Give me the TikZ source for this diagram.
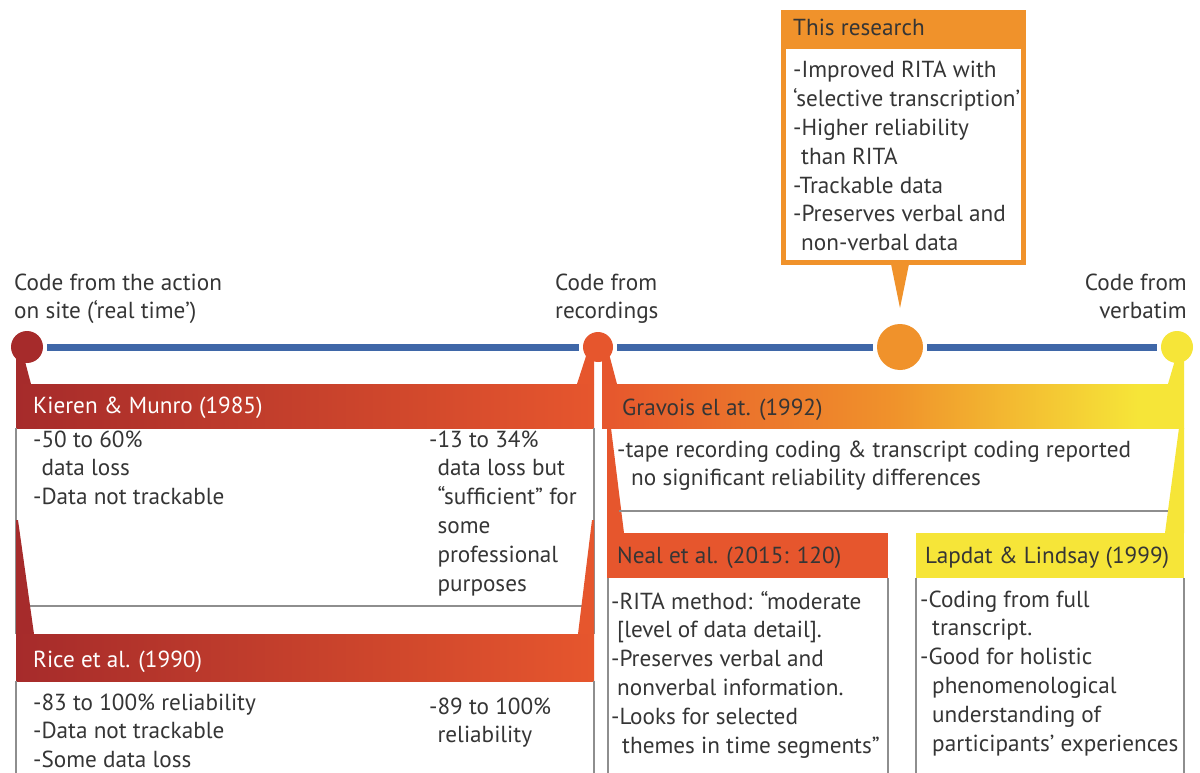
\documentclass[tikz,border=0pt]{standalone}
\usepackage{fontspec}
\setmainfont{PT Sans}

\definecolor{tlred}{HTML}{A62B2B}
\definecolor{tlorangered}{HTML}{E6562D}
\definecolor{tlorange}{HTML}{F0922B}
\definecolor{tlyellow}{HTML}{F6E538}
\definecolor{tlblue}{HTML}{3F67A8}
\definecolor{rulegrey}{HTML}{8E8E8E}
\definecolor{ink}{HTML}{353535}

% header fade: red-orange -> orange -> yellow
\pgfdeclarehorizontalshading{gravoisfade}{100bp}{color(0bp)=(tlorangered); color(25bp)=(tlorangered); color(50bp)=(tlorange); color(71bp)=(tlyellow); color(100bp)=(tlyellow)}

\newcommand{\bodyfont}{\fontsize{23.2}{28.8}\selectfont}
\newcommand{\txtblock}[1]{\begin{tabular}[t]{@{}l@{}}#1\end{tabular}}
\newcommand{\txtblockr}[1]{\begin{tabular}[t]{@{}r@{}}#1\end{tabular}}
\newcommand{\ind}{\hphantom{-}}

\tikzset{
  dot/.style={circle, inner sep=0pt, outer sep=4pt, draw=none},
  timeline/.style={draw=tlblue, line width=7pt},
  rule/.style={draw=rulegrey, line width=1.3pt},
  txt/.style={anchor=base west, inner sep=0pt, text=ink, font=\bodyfont},
  hdrwhite/.style={txt, text=white},
}

\begin{document}
\begin{tikzpicture}[x=1pt, y=-1pt]
\useasboundingbox (0,0) rectangle (1200,773);
\fill[white] (0,0) rectangle (1200,773);

% ---- timeline points ----
\node[dot, fill=tlred, minimum size=32pt] (c1) at (27,347) {};
\node[dot, fill=tlorangered, minimum size=30pt] (c2) at (598,347) {};
\node[dot, fill=tlorange, minimum size=46pt] (c3) at (900,347) {};
\node[dot, fill=tlyellow, minimum size=32pt] (c4) at (1177,347) {};
\draw[timeline] (c1) -- (c2);
\draw[timeline] (c2) -- (c3);
\draw[timeline] (c3) -- (c4);

% ---- point labels ----
\node[txt] (lab1) at (14,290) {\txtblock{Code from the action\\on site (‘real time’)}};
\node[txt] (lab2) at (555,290) {\txtblock{Code from\\recordings}};
\node[txt, anchor=base east] (lab3) at (1187,290) {\txtblockr{Code from\\verbatim}};

% ---- legs from the points down to the headers ----
\fill[tlred] (16,350) -- (22,350) -- (31,384) -- (16,384) -- cycle;
\fill[tlorangered] (588,350) -- (594,350) -- (594,384) -- (577,384) -- cycle;
\fill[tlorangered] (602,350) -- (608,350) -- (617,384) -- (602,384) -- cycle;
\fill[tlyellow] (1178,350) -- (1184,350) -- (1184,384) -- (1168,384) -- cycle;

% ---- Kieren & Munro ----
\shade[left color=tlred, right color=tlorangered] (16,384) rectangle (594,428);
\draw[rule] (16,428) -- (16,634);
\draw[rule] (594,428) -- (594,634);
\draw[rule] (16,606) -- (594,606);
\node[hdrwhite] (km) at (33,413) {Kieren \& Munro (1985)};
\node[txt] (kmA) at (33,447) {\txtblock{-50 to 60\%\\ \ind data loss\\-Data not trackable}};
\node[txt] (kmB) at (429,447) {\txtblock{-13 to 34\%\\ \ind data loss but\\ \ind “sufficient” for\\ \ind some\\ \ind professional\\ \ind purposes}};

% ---- Rice et al. ----
\fill[tlred] (16,520) -- (18,520) -- (34,634) -- (16,634) -- cycle;
\fill[tlorangered] (594,520) -- (592,520) -- (578,634) -- (594,634) -- cycle;
\shade[left color=tlred, right color=tlorangered] (16,634) rectangle (594,681);
\draw[rule] (16,681) -- (16,773);
\draw[rule] (594,681) -- (594,773);
\node[hdrwhite] (rice) at (33,667) {Rice et al. (1990)};
\node[txt] (riceA) at (33,710) {\txtblock{-83 to 100\% reliability\\-Data not trackable\\-Some data loss}};
\node[txt] (riceB) at (429,714) {\txtblock{-89 to 100\%\\ \ind reliability}};

% ---- Gravois el at. ----
\shade[shading=gravoisfade] (602,384) rectangle (1184,428);
\fill[tlorangered] (607,428) -- (611,428) -- (624,533) -- (607,533) -- cycle;
\fill[tlyellow] (1184,428) -- (1179,428) -- (1165,533) -- (1184,533) -- cycle;
\draw[rule] (619,511) -- (1168,511);
\node[txt] (grav) at (622,415) {Gravois el at. (1992)};
\node[txt] (gravA) at (617,457) {\txtblock{-tape recording coding \& transcript coding reported\\ \hspace{14pt}no significant reliability differences}};

% ---- Neal et al. ----
\fill[tlorangered] (607,533) rectangle (888,578);
\draw[rule] (608,578) -- (608,773);
\draw[rule] (888,578) -- (888,773);
\node[txt] (neal) at (617,563) {Neal et al. (2015: 120)};
\node[txt] (nealA) at (611,609) {\txtblock{-RITA method: “moderate\\ \hspace{6pt}[level of data detail].\\-Preserves verbal and\\ \hspace{6pt}nonverbal information.\\-Looks for selected\\ \hspace{11pt}themes in time segments”}};

% ---- Lapdat & Lindsay ----
\fill[tlyellow] (916,533) rectangle (1184,578);
\draw[rule] (916,578) -- (916,773);
\draw[rule] (1184,578) -- (1184,773);
\node[txt] (lap) at (925,563) {Lapdat \& Lindsay (1999)};
\node[txt] (lapA) at (920,607) {\txtblock{-Coding from full\\ \hspace{12pt}transcript.\\-Good for holistic\\ \hspace{12pt}phenomenological\\ \hspace{12pt}understanding of\\ \hspace{12pt}participants’ experiences}};

% ---- This research callout ----
\fill[tlorange] (781,10) rectangle (1026,265);
\fill[white] (786,49) rectangle (1021,260);
\fill[tlorange] (891,264) -- (909,264) -- (900,308) -- cycle;
\node[txt] (tr) at (793,36) {This research};
\node[txt] (trA) at (793,78) {\txtblock{-Improved RITA with\\‘selective transcription’\\-Higher reliability\\ \hspace{8pt}than RITA\\-Trackable data\\-Preserves verbal and\\ \hspace{8pt}non-verbal data}};
\end{tikzpicture}
\end{document}
